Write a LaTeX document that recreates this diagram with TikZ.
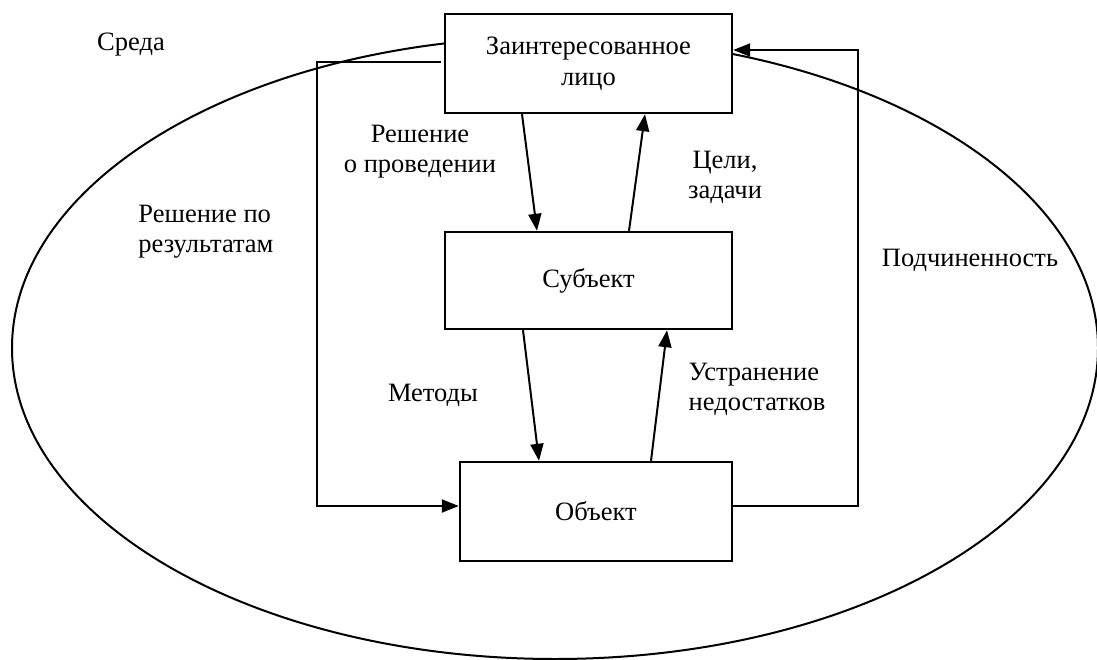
\documentclass[tikz,border=0pt]{standalone}
\usepackage{fontspec}
\setmainfont{Liberation Serif}
\usetikzlibrary{arrows.meta}
\tikzstyle{block}=[rectangle,draw,fill=white,line width=2.4pt,minimum height=99pt,inner sep=0pt,align=center,font=\fontsize{26.5}{33}\selectfont]
\tikzstyle{edge} = [draw,line width=2pt,-{Triangle[length=17pt,width=13pt]}]
\tikzstyle{caption} = [font=\fontsize{26.5}{30}\selectfont,align=center,inner sep=0pt]

\begin{document}
\begin{tikzpicture}[x=1pt,y=-1pt]
    \useasboundingbox (0,0) rectangle (1097,660);

    % environment
    \draw[line width=2pt] (555,348) ellipse [x radius=543pt, y radius=311pt];

    \node[block,minimum width=287pt] (lico) at (588.5,63.5) {Заинтересованное\\[-2pt]лицо};
    \node[block,minimum width=287pt,minimum height=97pt] (subj) at (588.5,280.5) {Субъект};
    \node[block,minimum width=272pt] (obj) at (596,511.5) {Объект};

    % arrows between the boxes
    \foreach \source/\sx/\dest/\dx in {lico.south/-66.5/subj.north/-51.5,
                                       subj.north/40.5/lico.south/56.5,
                                       subj.south/-65.5/obj.north/-57,
                                       obj.north/55/subj.south/78.5}
        \path[edge] ([xshift=\sx pt]\source) -- ([xshift=\dx pt]\dest);

    % feedback loops
    \coordinate (lcorner) at (317,506);
    \coordinate (rcorner) at (858,50);
    \path[edge] ([xshift=-3pt,yshift=1.5pt]lico.west) -| (lcorner) -- ([yshift=5.5pt]obj.west);
    \path[edge] ([yshift=5.5pt]obj.east) -| (rcorner) -- ([yshift=13.5pt]lico.east);

    % labels
    \foreach \pos/\name/\txt/\al in {{(131,45)/sreda/Среда/center},
            {(420,152)/resh/Решение\\о проведении/center},
            {(725,177)/celi/Цели,\\задачи/center},
            {(206,232)/itog/Решение по\\результатам/left},
            {(970,260)/podch/Подчиненность/center},
            {(433,395)/metod/Методы/center},
            {(757,389)/ustr/Устранение\\недостатков/left}}
        \node[caption,align=\al] (\name) at \pos {\txt};

\end{tikzpicture}
\end{document}
